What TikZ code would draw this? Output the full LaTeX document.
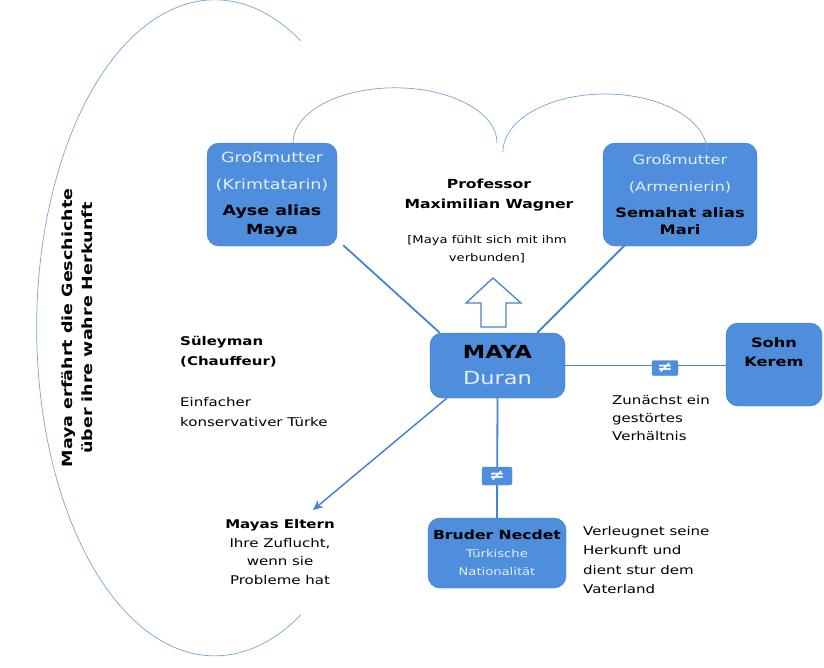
\documentclass[tikz,border=0pt]{standalone}
\usepackage{fontspec}
\setmainfont{DejaVu Sans}[FakeStretch=1.25]
\usetikzlibrary{arrows.meta}

\definecolor{kastenblau}{RGB}{79,142,220}
\definecolor{linienblau}{RGB}{72,132,205}
\definecolor{hellblau}{RGB}{228,238,252}

\tikzset{
  famkasten/.style={rounded corners=12pt, fill=kastenblau, draw=kastenblau!85!black, line width=0.4pt,
                    align=center, inner sep=0pt},
  verbindung/.style={linienblau, line width=1.8pt},
  bogen/.style={linienblau!75, line width=0.7pt},
  ungleich/.style={fill=kastenblau, draw=linienblau, rounded corners=2pt, text=white, inner sep=0pt,
                   font=\bfseries\fontsize{15}{15}\selectfont},
  notiz/.style={align=left, anchor=west, inner sep=0pt},
}

\begin{document}
\begin{tikzpicture}[x=1pt, y=-1pt]
  \useasboundingbox (0,0) rectangle (824,667);

  % grosser Bogen links
  \draw[bogen] (301,41) arc[start angle=-61, end angle=-299, x radius=178, y radius=328];
  \node[rotate=90, align=center, inner sep=0pt, font=\bfseries\fontsize{14}{20}\selectfont] (herkunft) at (77,328)
       {Maya erfährt die Geschichte\\über ihre wahre Herkunft};

  % Familie
  \node[famkasten, minimum width=130, minimum height=103, font=\fontsize{14}{19}\selectfont] (oma1) at (272,194.5)
       {{\color{hellblau}Großmutter}\\[8pt]{\color{hellblau}(Krimtatarin)}\\[7pt]
        \textbf{Ayse alias}\\\textbf{Maya}};
  \node[famkasten, minimum width=154, minimum height=103, font=\fontsize{13}{19}\selectfont] (oma2) at (680,194.5)
       {{\color{hellblau}Großmutter}\\[8pt]{\color{hellblau}(Armenierin)}\\[7pt]
        \textbf{Semahat alias}\\[-2pt]\textbf{Mari}};
  \node[famkasten, minimum width=135, minimum height=65, font=\fontsize{18}{26}\selectfont] (maya) at (497.5,365.5)
       {\textbf{MAYA}\\{\color{hellblau}Duran}};
  \node[famkasten, minimum width=96, minimum height=83] (sohn) at (774,364.5) {};
  \node[align=center, inner sep=0pt, font=\bfseries\fontsize{13}{19}\selectfont] (sohntext) at (774,352) {Sohn\\Kerem};
  \node[famkasten, minimum width=138, minimum height=70, font=\fontsize{10.5}{18}\selectfont] (bruder) at (497,553)
       {{\bfseries\fontsize{12.5}{18}\selectfont Bruder Necdet}\\
        {\color{hellblau}Türkische}\\
        {\color{hellblau}Nationalität}};

  % Texte ohne Kasten
  \node[align=center, inner sep=0pt, font=\bfseries\fontsize{12.5}{20}\selectfont] (prof) at (489,195)
       {Professor\\Maximilian Wagner};
  \node[align=center, inner sep=0pt, font=\fontsize{10.5}{18}\selectfont] (profnotiz) at (487,249)
       {[Maya fühlt sich mit ihm\\verbunden]};
  \node[notiz, font=\bfseries\fontsize{12}{20}\selectfont] (sul) at (180,352) {Süleyman\\(Chauffeur)};
  \node[notiz, font=\fontsize{12}{20}\selectfont] (sulnotiz) at (180,412) {Einfacher\\konservativer Türke};
  \node[notiz, font=\fontsize{12}{18}\selectfont] (sohnnotiz) at (612,418) {Zunächst ein\\gestörtes\\Verhältnis};
  \node[notiz, font=\fontsize{12}{19.3}\selectfont] (brudernotiz) at (583,560)
       {Verleugnet seine\\Herkunft und\\dient stur dem\\Vaterland};
  \node[align=center, inner sep=0pt, font=\fontsize{12}{18.7}\selectfont] (eltern) at (280,552)
       {\textbf{Mayas Eltern}\\Ihre Zuflucht,\\wenn sie\\Probleme hat};
  \coordinate (elternpfeil) at (313,510);

  % Verbindungen
  \draw[verbindung] ([xshift=6pt,yshift=1pt]oma1.south east) -- ([xshift=10pt]maya.north west);
  \draw[verbindung] ([xshift=22pt,yshift=1pt]oma2.south west) -- ([xshift=-28pt]maya.north east);
  \draw[verbindung] (maya.east) -- (maya.east -| sohn.west);
  \draw[verbindung] (maya.south) -- (bruder.north);
  \draw[linienblau, line width=1.5pt, -{Stealth[length=10pt,width=9pt]}] ([xshift=17pt]maya.south west) -- (elternpfeil);
  \node[ungleich, minimum width=26, minimum height=15] (ungleich1) at (665,368) {≠};
  \node[ungleich, minimum width=30, minimum height=18] (ungleich2) at (497,476) {≠};

  % Boegen oben
  \draw[bogen] ([xshift=21pt]oma1.north) arc[start angle=180, end angle=360, x radius=102, y radius=55];
  \draw[bogen] (503,152) arc[start angle=180, end angle=360, x radius=102, y radius=58];

  % Pfeil nach oben
  \draw[linienblau, line width=1.3pt, fill=white]
       (481,327) -- (481,303) -- (466,303) -- (493,278) -- (521,303) -- (506,303) -- (506,327) -- cycle;
\end{tikzpicture}
\end{document}
